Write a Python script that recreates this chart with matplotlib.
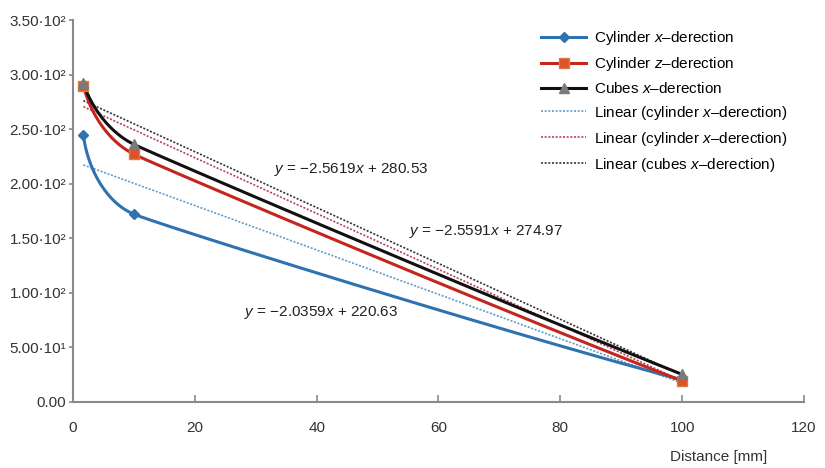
import numpy as np
import matplotlib
matplotlib.use("Agg")
import matplotlib.pyplot as plt

plt.rcParams['font.family'] = ['Liberation Sans', 'DejaVu Sans']
plt.rcParams['mathtext.fontset'] = 'custom'
plt.rcParams['mathtext.rm'] = 'Liberation Sans'
plt.rcParams['mathtext.it'] = 'Liberation Sans:italic'

# data
distance = [1.7, 10, 100]
cyl_x = [245, 172, 20]
cyl_z = [290, 227, 19]
cubes_x = [292, 236, 25]

# trend lines (Excel linear fits as printed on the chart)
fit_cyl_x = (-2.0359, 220.63)
fit_cyl_z = (-2.5591, 274.97)
fit_cubes_x = (-2.5619, 280.53)
fit_range = [1.7, 100]

yticks = [0, 50, 100, 150, 200, 250, 300, 350]
ytick_labels = ["0.00", "5.00·10¹", "1.00·10²", "1.50·10²", "2.00·10²",
                "2.50·10²", "3.00·10²", "3.50·10²"]
xticks = [0, 20, 40, 60, 80, 100, 120]

blue = "#2f72b0"
red = "#c4261d"
black = "#111111"

fig = plt.figure(figsize=(8.25, 4.68), dpi=100)
ax = fig.add_axes([0.0885, 0.1417, 0.886, 0.8153])
ax.set_xlim(0, 120)
ax.set_ylim(0, 350)


def smooth(px, py, n=80, k_end=0.35):
    # smoothed line: cubic Bezier through the points, built in pixel space
    P = ax.transData.transform(np.column_stack([px, py]))
    d = np.diff(P, axis=0)
    L = np.hypot(d[:, 0], d[:, 1])
    U = d / L[:, None]
    T = np.zeros_like(P)
    for i in range(1, len(P) - 1):
        t = P[i + 1] - P[i - 1]
        T[i] = t / np.hypot(*t)
    t0 = 2 * U[0] - T[1]
    T[0] = t0 / np.hypot(*t0)
    t1 = U[-1] + k_end * (U[-1] - T[-2])
    T[-1] = t1 / np.hypot(*t1)
    s = np.linspace(0, 1, n)[:, None]
    out = []
    for i in range(len(P) - 1):
        lo = L[max(i - 1, 0):i + 2].min()
        c1 = P[i] + T[i] * min(L[i], lo) / 3
        c2 = P[i + 1] - T[i + 1] * L[i] / 3
        B = ((1 - s) ** 3 * P[i] + 3 * (1 - s) ** 2 * s * c1
             + 3 * (1 - s) * s ** 2 * c2 + s ** 3 * P[i + 1])
        out.append(B)
    return ax.transData.inverted().transform(np.vstack(out))


series = [
    (cyl_x, blue, "D", 5, blue, blue, "Cylinder $x$–derection"),
    (cyl_z, red, "s", 7, "#e0502a", "#d08040", "Cylinder $z$–derection"),
    (cubes_x, black, "^", 7, "#7a7a7a", "#7a7a7a", "Cubes $x$–derection"),
]
handles = []
for ys, col, mk, ms, mfc, mec, lab in series:
    curve = smooth(distance, ys)
    ax.plot(curve[:, 0], curve[:, 1], color=col, lw=2.2, zorder=3)
    ax.plot(distance, ys, ls="none", marker=mk, ms=ms, mfc=mfc, mec=mec, zorder=4)
    h, = ax.plot([], [], color=col, lw=2.2, marker=mk, ms=ms, mfc=mfc, mec=mec, label=lab)
    handles.append(h)

fits = [
    (fit_cyl_x, "#5c9ccc", "Linear (cylinder $x$–derection)"),
    (fit_cyl_z, "#b8405a", "Linear (cylinder $x$–derection)"),
    (fit_cubes_x, "#333333", "Linear (cubes $x$–derection)"),
]
for (m, b), col, lab in fits:
    fx = np.array(fit_range)
    h, = ax.plot(fx, m * fx + b, color=col, lw=1.2, ls=(0, (1.2, 1)), zorder=2, label=lab)
    handles.append(h)

ax.text(33, 213, "$y$ = −2.5619$x$ + 280.53", fontsize=11, color="#222222", va="center")
ax.text(55.2, 156, "$y$ = −2.5591$x$ + 274.97", fontsize=11, color="#222222", va="center")
ax.text(28, 82, "$y$ = −2.0359$x$ + 220.63", fontsize=11, color="#222222", va="center")

ax.set_xticks(xticks)
ax.set_yticks(yticks)
ax.set_yticklabels(ytick_labels)
for side in ["top", "right"]:
    ax.spines[side].set_visible(False)
for side in ["left", "bottom"]:
    ax.spines[side].set_color("#8a8a8a")
    ax.spines[side].set_linewidth(1.5)
ax.tick_params(axis="x", direction="in", length=5, width=1.2, color="#8a8a8a",
               pad=14, labelsize=11, labelcolor="#333333")
ax.tick_params(axis="y", direction="out", length=3, width=1.2, color="#8a8a8a",
               pad=2, labelsize=11, labelcolor="#333333")

fig.text(719 / 825, 1 - 457 / 468, "Distance [mm]", fontsize=11, color="#333333",
         ha="center", va="center")

ax.legend(handles=handles, loc="upper left", bbox_to_anchor=(541 / 825, 1 - 29 / 468),
          bbox_transform=fig.transFigure, frameon=False, fontsize=11, handlelength=2.95,
          handletextpad=0.5, labelspacing=0.52, borderpad=0, borderaxespad=0)

fig.savefig("out.png", dpi=100)
